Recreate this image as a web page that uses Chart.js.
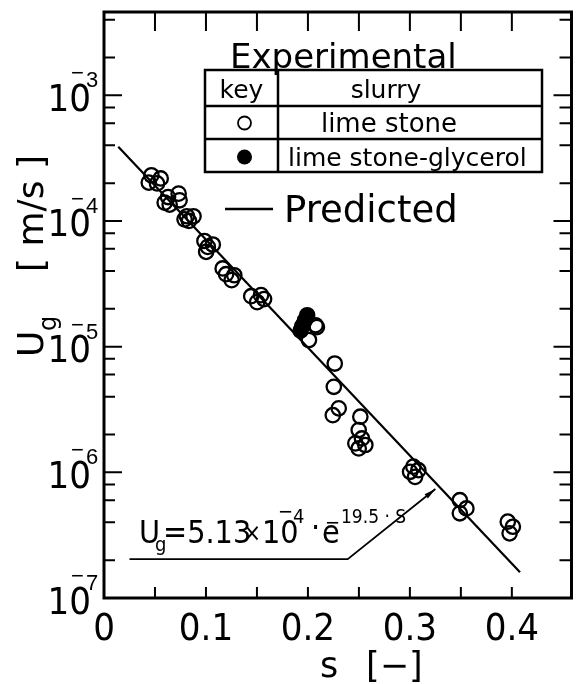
<!DOCTYPE html>
<html>
<head>
<meta charset="utf-8">
<script src="https://cdn.jsdelivr.net/npm/chart.js@4.4.1/dist/chart.umd.min.js"></script>
<style>
  html, body { margin: 0; padding: 0; background: #fff; }
  canvas { display: block; }
</style>
</head>
<body>
<canvas id="c" width="581" height="684"></canvas>
<script>
// ---------- data ----------
// Experimental, lime stone (open circles)
const sLimeStone = [0.0465, 0.0439, 0.052, 0.0556, 0.0628, 0.0595, 0.0644, 0.0732, 0.0741,
  0.0813, 0.079, 0.0833, 0.0878, 0.0985, 0.1018, 0.1002, 0.1067, 0.1164, 0.1197, 0.1252, 0.1278,
  0.1444, 0.1502, 0.157, 0.154, 0.2075, 0.2088, 0.201, 0.2263, 0.2254, 0.2302, 0.2244,
  0.2514, 0.2498, 0.253, 0.2465, 0.2563, 0.2498, 0.3034, 0.3002, 0.3051, 0.3083,
  0.349, 0.3554, 0.349, 0.396, 0.401, 0.3978];
const uLimeStone = [2.31e-4, 2.02e-4, 1.99e-4, 2.18e-4, 1.55e-4, 1.40e-4, 1.35e-4, 1.65e-4, 1.46e-4,
  1.09e-4, 1.03e-4, 1.00e-4, 1.09e-4, 6.93e-5, 6.22e-5, 5.68e-5, 6.5e-5, 4.19e-5, 3.77e-5, 3.38e-5, 3.7e-5,
  2.52e-5, 2.26e-5, 2.39e-5, 2.57e-5, 1.48e-5, 1.43e-5, 1.13e-5, 7.34e-6, 4.79e-6, 3.23e-6, 2.85e-6,
  2.77e-6, 2.17e-6, 1.86e-6, 1.70e-6, 1.65e-6, 1.55e-6, 1.11e-6, 1.01e-6, 9.2e-7, 1.04e-6,
  6.0e-7, 5.16e-7, 4.72e-7, 4.05e-7, 3.69e-7, 3.27e-7];
// Experimental, lime stone-glycerol (filled circles)
const sGlycerol = [0.1993, 0.197, 0.1944, 0.1928];
const uGlycerol = [1.78e-5, 1.62e-5, 1.46e-5, 1.34e-5];
// Predicted line (end points)
const sPredicted = [0.014, 0.408];
const uPredicted = [3.9e-4, 1.6e-7];
// Annotation leader (formula -> line)
const sLeader = [0.025, 0.239, 0.325];
const uLeader = [2.04e-7, 2.04e-7, 7.36e-7];

// ---------- ticks / labels ----------
const xTickValues = [0, 0.1, 0.2, 0.3, 0.4];
const xTickLabels = ['0', '0.1', '0.2', '0.3', '0.4'];
const xMinorTicks = [0.05, 0.1, 0.15, 0.2, 0.25, 0.3, 0.35, 0.4];
const yDecadeExponents = [-7, -6, -5, -4, -3];
const yMinorMantissas = [2, 4, 6, 8];
const xTitle = ['s', '[\u2212]'];
const yTitle = ['U', 'g', '[ m/s ]'];
const legendTitle = 'Experimental';
const legendHeader = ['key', 'slurry'];
const legendRows = ['lime stone', 'lime stone-glycerol'];
const predictedLabel = 'Predicted';

const toPts = (xs, ys) => xs.map((v, i) => ({ x: v, y: ys[i] }));

const NARROW = '"Liberation Sans Narrow", "DejaVu Sans Condensed", sans-serif';
const SANS = '"Liberation Sans", Arial, sans-serif';
const WIDE = '"DejaVu Sans", sans-serif';

function text(ctx, s, x, y, font, align) {
  ctx.font = font;
  ctx.textAlign = align || 'left';
  ctx.textBaseline = 'alphabetic';
  ctx.fillText(s, x, y);
}

const decorPlugin = {
  id: 'decor',
  beforeDraw(chart) {
    const ctx = chart.ctx;
    ctx.save();
    ctx.fillStyle = '#fff';
    ctx.fillRect(0, 0, chart.width, chart.height);
    ctx.restore();
  },
  afterDraw(chart) {
    const { ctx, chartArea: a, scales: { x, y } } = chart;
    ctx.save();
    ctx.fillStyle = '#000';
    ctx.strokeStyle = '#000';
    ctx.lineCap = 'butt';

    // ticks on x (bottom short, top longer), inward
    ctx.lineWidth = 2;
    xMinorTicks.forEach(v => {
      const px = x.getPixelForValue(v);
      ctx.beginPath();
      ctx.moveTo(px, a.bottom); ctx.lineTo(px, a.bottom - 11);
      ctx.moveTo(px, a.top); ctx.lineTo(px, a.top + 19);
      ctx.stroke();
    });
    // ticks on y (left and right), inward
    yDecadeExponents.forEach(e => {
      const py = y.getPixelForValue(Math.pow(10, e));
      ctx.beginPath();
      ctx.moveTo(a.left, py); ctx.lineTo(a.left + 18, py);
      ctx.moveTo(a.right, py); ctx.lineTo(a.right - 18, py);
      ctx.stroke();
      yMinorMantissas.forEach(m => {
        const v = m * Math.pow(10, e);
        if (v > y.max) return;
        const q = y.getPixelForValue(v);
        ctx.beginPath();
        ctx.moveTo(a.left, q); ctx.lineTo(a.left + 11, q);
        ctx.moveTo(a.right, q); ctx.lineTo(a.right - 12, q);
        ctx.stroke();
      });
    });

    // frame
    ctx.lineWidth = 3;
    ctx.strokeRect(a.left, a.top, a.right - a.left, a.bottom - a.top);

    // x tick labels
    xTickValues.forEach((v, i) => {
      text(ctx, xTickLabels[i], x.getPixelForValue(v), a.bottom + 42, '38px ' + NARROW, 'center');
    });
    // y tick labels 10^-n
    yDecadeExponents.forEach(e => {
      const py = y.getPixelForValue(Math.pow(10, e));
      text(ctx, '10', a.left - 13, py + 15.5, '38px ' + NARROW, 'right');
      text(ctx, '\u2212', a.left - 33, py - 15, '22px ' + SANS, 'left');
      text(ctx, String(-e), a.left - 18, py - 8, '22px ' + SANS, 'left');
    });

    // axis titles
    text(ctx, xTitle[0], 320, 677, '35px ' + WIDE, 'left');
    text(ctx, xTitle[1], 366, 677, '35px ' + WIDE, 'left');
    ctx.save();
    ctx.translate(43, 357);
    ctx.rotate(-Math.PI / 2);
    text(ctx, yTitle[0], 0, 0, '36px ' + WIDE, 'left');
    text(ctx, yTitle[1], 26, 13, '24px ' + WIDE, 'left');
    text(ctx, yTitle[2], 85, 0, '36px ' + WIDE, 'left');
    ctx.restore();

    // legend
    const tl = 205, tr = 542, tt = 70, tb = 172, col = 278;
    text(ctx, legendTitle, 230, 68, '34px ' + WIDE, 'left');
    ctx.lineWidth = 2.5;
    ctx.strokeRect(tl, tt, tr - tl, tb - tt);
    ctx.beginPath();
    ctx.moveTo(tl, 106); ctx.lineTo(tr, 106);
    ctx.moveTo(tl, 139); ctx.lineTo(tr, 139);
    ctx.moveTo(col, tt); ctx.lineTo(col, tb);
    ctx.stroke();
    const kc = (tl + col) / 2;
    text(ctx, legendHeader[0], kc, 98, '25px ' + WIDE, 'center');
    text(ctx, legendHeader[1], 386, 98, '25px ' + WIDE, 'center');
    text(ctx, legendRows[0], 389, 132, '26px ' + WIDE, 'center');
    text(ctx, legendRows[1], 288, 166, '25px ' + WIDE, 'left');
    ctx.lineWidth = 1.8;
    ctx.beginPath(); ctx.arc(kc + 3, 123, 6.5, 0, Math.PI * 2); ctx.stroke();
    ctx.beginPath(); ctx.arc(kc + 3, 157, 7.5, 0, Math.PI * 2); ctx.fill();
    ctx.lineWidth = 2.5;
    ctx.beginPath(); ctx.moveTo(225, 209); ctx.lineTo(273, 209); ctx.stroke();
    text(ctx, predictedLabel, 284, 222, '37px ' + WIDE, 'left');

    // formula annotation
    const F = '32px ' + NARROW, f = '20px ' + NARROW;
    text(ctx, 'U', 139, 543, F);
    text(ctx, 'g', 155, 551, f);
    text(ctx, '=5.13', 163, 543, F);
    text(ctx, '\u00d7', 243, 541, '24px ' + NARROW);
    text(ctx, '10', 262, 543, F);
    text(ctx, '\u2212', 278, 518, f);
    text(ctx, '4', 293, 523, f);
    text(ctx, '\u00b7', 311, 538, F);
    text(ctx, 'e', 322, 543, F);
    text(ctx, '\u2212', 325, 529, f);
    text(ctx, '19.5 \u00b7 S', 341, 523, '19px ' + NARROW);

    // leader with arrow (positioned through the scales)
    const L = sLeader.map((s, i) => [x.getPixelForValue(s), y.getPixelForValue(uLeader[i])]);
    ctx.lineWidth = 1.8;
    ctx.beginPath();
    ctx.moveTo(L[0][0], L[0][1]);
    for (let i = 1; i < L.length; i++) ctx.lineTo(L[i][0], L[i][1]);
    ctx.stroke();
    const [x1, y1] = L[L.length - 2], [x2, y2] = L[L.length - 1];
    const ang = Math.atan2(y2 - y1, x2 - x1);
    ctx.beginPath();
    ctx.moveTo(x2, y2);
    ctx.lineTo(x2 - 12 * Math.cos(ang - 0.22), y2 - 12 * Math.sin(ang - 0.22));
    ctx.lineTo(x2 - 12 * Math.cos(ang + 0.22), y2 - 12 * Math.sin(ang + 0.22));
    ctx.closePath();
    ctx.fill();

    ctx.restore();
  }
};

new Chart(document.getElementById('c'), {
  type: 'scatter',
  data: {
    datasets: [
      {
        label: 'Predicted',
        data: toPts(sPredicted, uPredicted),
        showLine: true,
        borderColor: '#000',
        borderWidth: 2.2,
        pointRadius: 0,
        order: 3
      },
      {
        label: 'lime stone',
        data: toPts(sLimeStone, uLimeStone),
        pointRadius: 7.2,
        pointBorderWidth: 2.3,
        borderColor: '#000',
        backgroundColor: 'rgba(255,255,255,0)',
        order: 2
      },
      {
        label: 'lime stone-glycerol',
        data: toPts(sGlycerol, uGlycerol),
        pointRadius: 7.5,
        pointBorderWidth: 1.5,
        borderColor: '#000',
        backgroundColor: '#000',
        order: 1
      }
    ]
  },
  options: {
    responsive: false,
    devicePixelRatio: 1,
    animation: false,
    events: [],
    layout: { padding: { left: 104, right: 7, top: 12, bottom: 86 } },
    plugins: { legend: { display: false }, tooltip: { enabled: false } },
    scales: {
      x: { type: 'linear', min: 0, max: 0.4585, display: false },
      y: { type: 'logarithmic', min: 1e-7, max: 4.6e-3, display: false }
    }
  },
  plugins: [decorPlugin]
});
</script>
</body>
</html>
